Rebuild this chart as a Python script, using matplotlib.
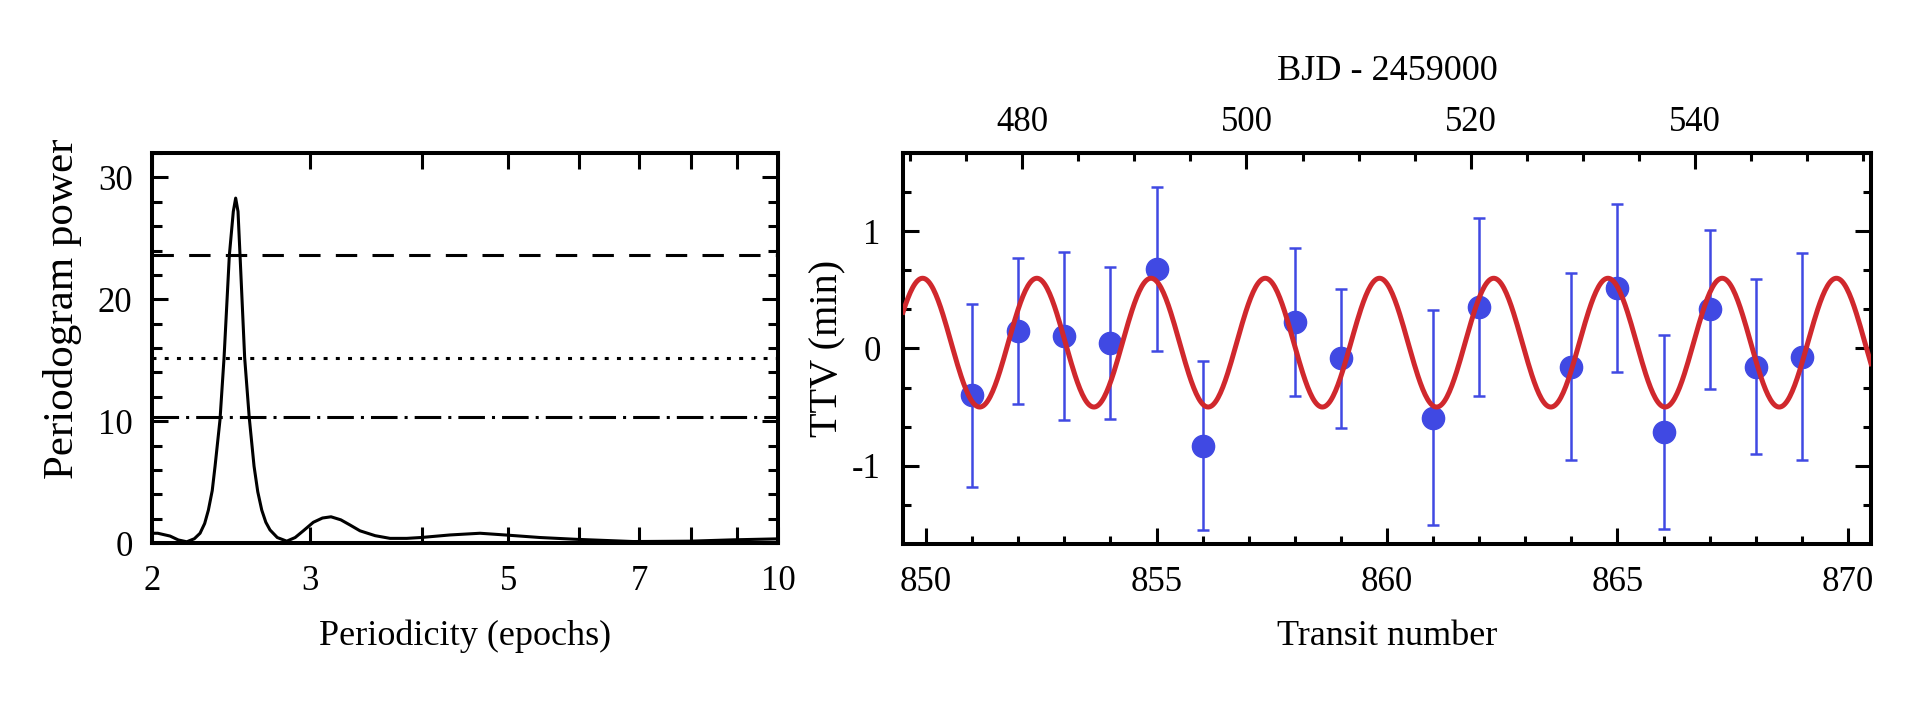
import numpy as np
import matplotlib.pyplot as plt
from matplotlib.ticker import FixedLocator, MultipleLocator, NullLocator, FuncFormatter

plt.rcParams['font.family'] = ['Liberation Serif', 'DejaVu Serif']
plt.rcParams['axes.unicode_minus'] = False

# periodogram
period = [2.0, 2.03, 2.095, 2.14, 2.187, 2.23, 2.263, 2.29, 2.312, 2.335, 2.352,
          2.382, 2.407, 2.44, 2.465, 2.48, 2.495, 2.508, 2.538, 2.568, 2.6, 2.625,
          2.652, 2.68, 2.709, 2.76, 2.828, 2.89, 2.951, 3.028, 3.1, 3.169, 3.25,
          3.327, 3.414, 3.55, 3.688, 3.85, 3.994, 4.303, 4.648, 4.978, 5.423,
          5.96, 6.893, 7.976, 8.915, 10.0]
power = [0.8, 0.8, 0.57, 0.25, 0.1, 0.35, 0.8, 1.6, 2.7, 4.3, 6.3,
         10.1, 15.2, 23.6, 27.2, 28.3, 27.2, 23.6, 15.2, 10.3, 6.3, 4.2,
         2.7, 1.7, 1.07, 0.45, 0.15, 0.45, 1.0, 1.7, 2.05, 2.15, 1.9,
         1.48, 1.0, 0.6, 0.38, 0.38, 0.45, 0.66, 0.8, 0.65, 0.45,
         0.3, 0.12, 0.15, 0.26, 0.34]
fap_levels = [23.6, 15.2, 10.3]

# TTV measurements
transit = [851, 852, 853, 854, 855, 856, 858, 859, 861, 862, 864, 865, 866, 867, 868, 869]
ttv = [-0.40, 0.15, 0.105, 0.045, 0.68, -0.83, 0.225, -0.085, -0.59, 0.355,
       -0.155, 0.515, -0.715, 0.335, -0.155, -0.07]
ttv_err = [0.78, 0.625, 0.72, 0.65, 0.70, 0.72, 0.635, 0.59, 0.92, 0.76,
           0.80, 0.72, 0.83, 0.68, 0.745, 0.885]

# sinusoidal fit
amp = 0.55
offset = 0.05
ttv_period = 2.478
t_peak = 849.925

# transit number -> BJD - 2459000
bjd0 = 471.4
p_orb = 4.114
bjd_major = [480, 500, 520, 540]
bjd_minor = [470, 475, 485, 490, 495, 505, 510, 515, 525, 530, 535, 545, 550, 555]

fig = plt.figure(figsize=(19.32, 7.14), dpi=100)

# ---- left: periodogram
ax1 = fig.add_axes([152/1932, 1-543/714, 626/1932, 390/714])
ax1.plot(period, power, color='black', lw=2.2)
ax1.axhline(fap_levels[0], color='black', lw=2.2, dashes=(7, 5))
ax1.axhline(fap_levels[1], color='black', lw=2.2, dashes=(1.3, 2.7))
ax1.axhline(fap_levels[2], color='black', lw=2.2, dashes=(8.7, 2.3, 1, 2.3))
ax1.set_xscale('log')
ax1.set_xlim(2, 10)
ax1.set_ylim(0, 32)
ax1.xaxis.set_major_locator(FixedLocator([2, 3, 4, 5, 6, 7, 8, 9, 10]))
ax1.xaxis.set_minor_locator(NullLocator())
ax1.xaxis.set_major_formatter(FuncFormatter(
    lambda v, pos: '%d' % round(v) if round(v) in (2, 3, 5, 7, 10) else ''))
ax1.yaxis.set_major_locator(MultipleLocator(10))
ax1.yaxis.set_minor_locator(MultipleLocator(2))
ax1.tick_params(which='both', direction='in', top=True, right=True, width=2.2,
                labelsize=25)
ax1.tick_params(axis='x', which='major', length=11.5, pad=16)
ax1.tick_params(axis='y', which='major', length=11.5, pad=14)
ax1.tick_params(axis='y', which='minor', length=7)
ax1.set_xlabel('Periodicity (epochs)', fontsize=26)
ax1.set_ylabel('Periodogram power', fontsize=31)
ax1.xaxis.set_label_coords(0.5, -0.195)
ax1.yaxis.set_label_coords(-0.112, 0.6)

# ---- right: TTV
ax2 = fig.add_axes([903/1932, 1-544/714, 968/1932, 391/714])
tt = np.linspace(849.5, 870.5, 800)
model = offset + amp*np.cos(2*np.pi*(tt - t_peak)/ttv_period)
ax2.plot(tt, model, color='#d0282d', lw=3.6, zorder=3)
ax2.errorbar(transit, ttv, yerr=ttv_err, fmt='o', color='#4049e3', ms=16,
             elinewidth=1.8, capsize=4, capthick=1.8, zorder=2)
ax2.set_xlim(849.5, 870.5)
ax2.set_ylim(-1.67, 1.67)
ax2.xaxis.set_major_locator(FixedLocator([850, 855, 860, 865, 870]))
ax2.xaxis.set_minor_locator(FixedLocator(range(850, 871)))
ax2.yaxis.set_major_locator(FixedLocator([-1, 0, 1]))
ax2.yaxis.set_minor_locator(FixedLocator([-4/3, -2/3, -1/3, 1/3, 2/3, 4/3]))
ax2.tick_params(which='both', direction='in', right=True, width=2.2, labelsize=25)
ax2.tick_params(which='major', length=11.5)
ax2.tick_params(which='minor', length=6)
ax2.tick_params(axis='x', pad=16)
ax2.tick_params(axis='y', pad=16)
ax2.set_xlabel('Transit number', fontsize=26)
ax2.set_ylabel('TTV (min)', fontsize=29)
ax2.xaxis.set_label_coords(0.5, -0.195)
ax2.yaxis.set_label_coords(-0.058, 0.5)

top = ax2.secondary_xaxis('top', functions=(lambda n: bjd0 + (n - 850)*p_orb,
                                            lambda b: 850 + (b - bjd0)/p_orb))
top.xaxis.set_major_locator(FixedLocator(bjd_major))
top.xaxis.set_minor_locator(FixedLocator(bjd_minor))
top.tick_params(which='both', direction='in', width=2.2, labelsize=25, pad=10)
top.tick_params(which='major', length=11.5)
top.tick_params(which='minor', length=6)
top.set_xlabel('BJD - 2459000', fontsize=26, labelpad=19)

for ax in (ax1, ax2, top):
    for s in ax.spines.values():
        s.set_linewidth(2.9)

fig.savefig('out.png', dpi=100)
